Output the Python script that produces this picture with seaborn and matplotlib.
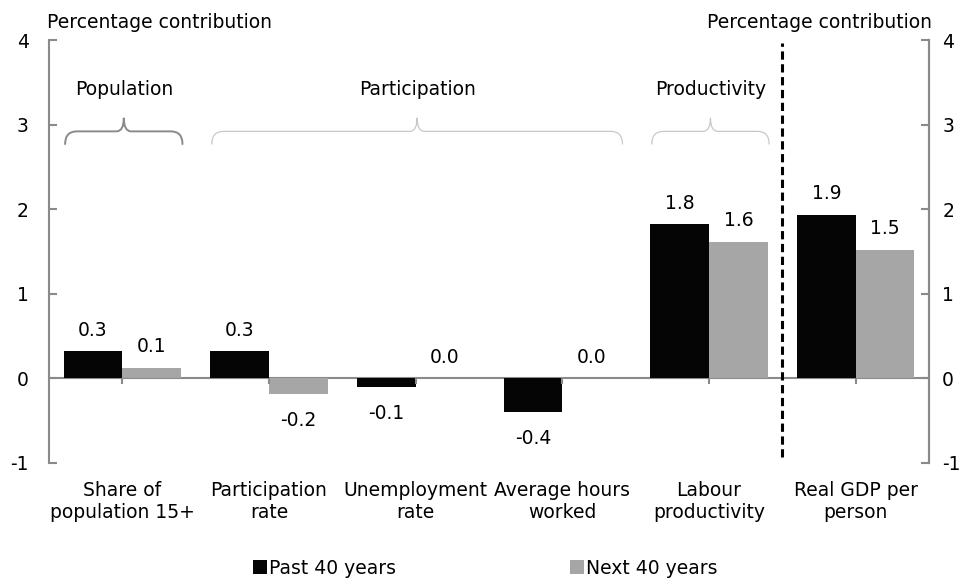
import matplotlib
matplotlib.use("Agg")
import matplotlib.pyplot as plt
import seaborn as sns
import pandas as pd
import numpy as np
from matplotlib.path import Path
from matplotlib.patches import PathPatch, Patch

# ---- data ----
categories = ["Share of\npopulation 15+", "Participation\nrate", "Unemployment\nrate",
              "Average hours\nworked", "Labour\nproductivity", "Real GDP per\nperson"]
past_40 = [0.32, 0.32, -0.10, -0.40, 1.82, 1.93]
next_40 = [0.12, -0.19, 0.0, 0.0, 1.61, 1.52]
series = ["Past 40 years", "Next 40 years"]
groups = ["Population", "Participation", "Productivity"]
group_first = [0, 1, 4]   # first category under each brace
group_last = [0, 3, 4]    # last category under each brace
y_ticks = [-1, 0, 1, 2, 3, 4]

# ---- style ----
sns.set_style("white")
plt.rcParams["font.family"] = ["DejaVu Sans"]
FS = 13.5
plt.rcParams.update({
    "font.size": FS,
    "text.color": "black",
    "axes.labelcolor": "black",
    "xtick.labelcolor": "black",
    "ytick.labelcolor": "black",
})
AXIS_GREY = "#8a8a8a"
colors = ["#050505", "#a6a6a6"]

df = pd.DataFrame({
    "category": categories * 2,
    "value": past_40 + next_40,
    "series": [series[0]] * len(categories) + [series[1]] * len(categories),
})

fig = plt.figure(figsize=(9.65, 5.78), dpi=100)
ax = fig.add_axes([49 / 965, 1 - 463 / 578, 880 / 965, 423 / 578])

sns.barplot(data=df, x="category", y="value", hue="series", palette=colors,
            saturation=1, width=0.8, errorbar=None, legend=False, ax=ax,
            linewidth=0, edgecolor="none", zorder=3)

ax.set_xlim(-0.5, len(categories) - 0.5)
ax.set_ylim(y_ticks[0], y_ticks[-1])
ax.set_xlabel("")
ax.set_ylabel("")

# zero line and small category ticks on it
ax.axhline(0, color=AXIS_GREY, lw=1.5, zorder=2)
pos = np.arange(len(categories))
ax.vlines(pos, -0.065, 0.0, color=AXIS_GREY, lw=1.5, zorder=4)

# spines / ticks
for side in ["top", "bottom"]:
    ax.spines[side].set_visible(False)
for side in ["left", "right"]:
    ax.spines[side].set_visible(True)
    ax.spines[side].set_color(AXIS_GREY)
    ax.spines[side].set_linewidth(1.5)
ax.set_yticks(y_ticks)
ax.set_yticklabels([str(t) for t in y_ticks])
ax.tick_params(axis="y", which="major", direction="in", length=6, width=1.5,
               color=AXIS_GREY, labelcolor="black", pad=14.5, labelsize=FS,
               left=True, right=False)
ax.tick_params(axis="x", length=0, pad=13, labelsize=FS, labelcolor="black")

ax2 = ax.twinx()
ax2.set_ylim(ax.get_ylim())
ax2.set_yticks(y_ticks)
ax2.set_yticklabels([str(t) for t in y_ticks])
for side in ["top", "bottom", "left"]:
    ax2.spines[side].set_visible(False)
ax2.spines["right"].set_color(AXIS_GREY)
ax2.spines["right"].set_linewidth(1.5)
ax2.tick_params(axis="y", direction="in", length=6, width=1.5, color=AXIS_GREY,
                labelcolor="black", pad=9.5, labelsize=FS)

# value labels
for offset, vals in [(-0.2, past_40), (0.2, next_40)]:
    for i, v in enumerate(vals):
        if v >= 0:
            ax.annotate(f"{v:.1f}", (i + offset, v), xytext=(0, 8.5),
                        textcoords="offset points", ha="center", va="bottom",
                        fontsize=FS, color="black")
        else:
            ax.annotate(f"{v:.1f}", (i + offset, v), xytext=(0, -12),
                        textcoords="offset points", ha="center", va="top",
                        fontsize=FS, color="black")

# dashed separator before the final category
ax.vlines(len(categories) - 1.5, -0.93, 3.96, colors="black", lw=2.2,
          linestyles=(0, (2.7, 1.5)), zorder=5)


def curly_brace(axis, x0, x1, y_end, y_mid, y_tip, color, lw):
    xt = (x0 + x1) / 2
    r = 0.08
    t = 0.05
    verts = [
        (x0, y_end), (x0, y_mid), (x0 + r, y_mid),
        (xt - t, y_mid),
        (xt, y_mid), (xt, y_tip),
        (xt, y_mid), (xt + t, y_mid),
        (x1 - r, y_mid),
        (x1, y_mid), (x1, y_end),
    ]
    codes = [Path.MOVETO, Path.CURVE3, Path.CURVE3,
             Path.LINETO,
             Path.CURVE3, Path.CURVE3,
             Path.CURVE3, Path.CURVE3,
             Path.LINETO,
             Path.CURVE3, Path.CURVE3]
    axis.add_patch(PathPatch(Path(verts, codes), fill=False, edgecolor=color,
                             lw=lw, capstyle="round", zorder=4))
    return xt


brace_styles = [("#8a8a8a", 1.4), ("#c8c8c8", 0.9), ("#c8c8c8", 0.9)]
for name, a, b, (col, lw) in zip(groups, group_first, group_last, brace_styles):
    xt = curly_brace(ax, a - 0.39, b + 0.41, 2.77, 2.92, 3.08, col, lw)
    ax.text(xt, 3.41, name, ha="center", va="center", fontsize=FS, color="black")

# axis titles
fig.text(47 / 965, 1 - 23 / 578, "Percentage contribution", ha="left", va="center",
         fontsize=FS, color="black")
fig.text(932 / 965, 1 - 23 / 578, "Percentage contribution", ha="right", va="center",
         fontsize=FS, color="black")

# legend
handles = [Patch(facecolor=c, edgecolor="none") for c in colors]
fig.legend(handles, series, loc="center left", bbox_to_anchor=(253 / 965, 1 - 568 / 578),
           ncol=2, frameon=False, handlelength=0.75, handleheight=0.75,
           handletextpad=0.1, columnspacing=9.3, borderpad=0, borderaxespad=0,
           fontsize=FS, labelcolor="black")

fig.savefig("out.png", dpi=100)
